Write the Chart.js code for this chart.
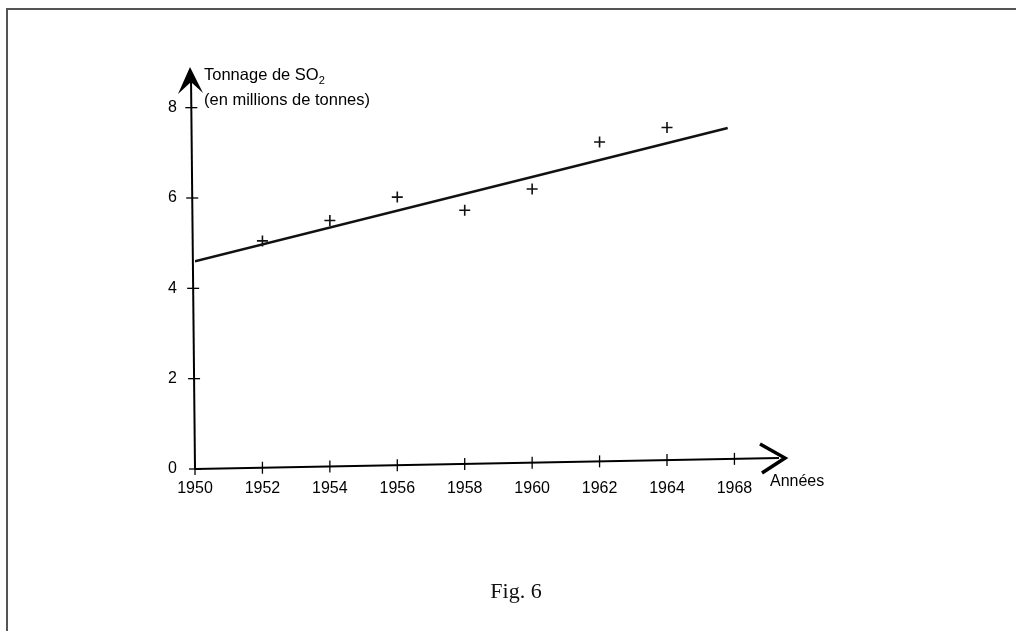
<!DOCTYPE html>
<html lang="fr">
<head>
<meta charset="utf-8">
<title>Fig. 6 - Tonnage de SO2</title>
<script src="https://cdn.jsdelivr.net/npm/chart.js@4.4.1/dist/chart.umd.min.js"></script>
<style>
    html, body { margin: 0; padding: 0; background: #fff; }
    #cadre { position: absolute; left: 0; top: 0; width: 1016px; height: 631px; overflow: hidden; }
    #bordure { position: absolute; left: 6px; top: 8px; width: 1100px; height: 700px; border-top: 2px solid #555; border-left: 2px solid #555; }
    #graphique { position: absolute; left: 0; top: 0; }
    #legende { position: absolute; left: 416px; top: 578px; width: 200px; text-align: center;
               font-family: "Liberation Serif", "DejaVu Serif", serif; font-size: 22px; color: #111; }
</style>
</head>
<body>
<div id="cadre">
    <div id="bordure"></div>
    <canvas id="graphique" width="1016" height="631"></canvas>
    <div id="legende">Fig. 6</div>
</div>

<script>
// Données (millions de tonnes)
const annees = [1952, 1954, 1956, 1958, 1960, 1962, 1964];
const tonnage = [5.05, 5.5, 6.02, 5.73, 6.2, 7.24, 7.56];

// Droite d'ajustement tracée sur la figure
const droiteAnnees = [1950, 1965.8];
const droiteValeurs = [4.6, 7.55];

// Graduations (la dernière est marquée "1968" sur l'original)
const graduationsX = [1950, 1952, 1954, 1956, 1958, 1960, 1962, 1964, 1966];
const etiquettesX = ['1950', '1952', '1954', '1956', '1958', '1960', '1962', '1964', '1968'];
const graduationsY = [0, 2, 4, 6, 8];

const police = '"Liberation Sans", Arial, sans-serif';

// Axes avec flèches, graduations en croix et titres d'axes
const axesFleches = {
    id: 'axesFleches',
    afterDraw(chart) {
        const ctx = chart.ctx;
        const sx = chart.scales.x, sy = chart.scales.y;
        const x0 = sx.getPixelForValue(1950);
        const y0 = sy.getPixelForValue(0);
        const xFin = chart.chartArea.right;
        const yFin = chart.chartArea.top;

        ctx.save();
        ctx.strokeStyle = '#000';
        ctx.fillStyle = '#000';
        ctx.lineWidth = 2;

        // axe vertical
        ctx.beginPath();
        ctx.moveTo(x0, y0);
        ctx.lineTo(x0 - 4, yFin + 10);
        ctx.stroke();
        // axe horizontal
        ctx.beginPath();
        ctx.moveTo(x0, y0);
        ctx.lineTo(xFin - 6, y0 - 11);
        ctx.stroke();

        // flèche verticale
        const tx = x0 - 5, ty = yFin;
        ctx.beginPath();
        ctx.moveTo(tx, ty);
        ctx.lineTo(tx + 13, ty + 26);
        ctx.lineTo(tx + 1, ty + 15);
        ctx.lineTo(tx - 12, ty + 27);
        ctx.closePath();
        ctx.fill();

        // flèche horizontale
        const fx = xFin, fy = y0 - 11;
        ctx.lineWidth = 3.5;
        ctx.beginPath();
        ctx.moveTo(fx - 25, fy - 14);
        ctx.lineTo(fx, fy);
        ctx.lineTo(fx - 23, fy + 15);
        ctx.stroke();

        // graduations en croix
        ctx.lineWidth = 1.3;
        graduationsY.forEach(v => {
            const py = sy.getPixelForValue(v);
            const px = x0 - 4 * (py - y0) / (yFin + 10 - y0);
            ctx.beginPath();
            ctx.moveTo(px - 6, py);
            ctx.lineTo(px + 6, py);
            ctx.stroke();
        });
        graduationsX.forEach(v => {
            const px = sx.getPixelForValue(v);
            const py = y0 - 11 * (px - x0) / (xFin - 6 - x0);
            ctx.beginPath();
            ctx.moveTo(px, py - 6);
            ctx.lineTo(px, py + 6);
            ctx.stroke();
        });

        // titre de l'axe vertical
        ctx.textBaseline = 'middle';
        ctx.textAlign = 'left';
        ctx.font = '16.5px ' + police;
        const debut = 'Tonnage de SO';
        ctx.fillText(debut, x0 + 9, yFin + 8);
        const w = ctx.measureText(debut).width;
        ctx.font = '11px ' + police;
        ctx.fillText('2', x0 + 9 + w, yFin + 14);
        ctx.font = '16.5px ' + police;
        ctx.fillText('(en millions de tonnes)', x0 + 9, yFin + 33);

        // titre de l'axe horizontal
        ctx.font = '16px ' + police;
        ctx.fillText('Années', xFin - 15, y0 + 13);
        ctx.restore();
    }
};

new Chart(document.getElementById('graphique'), {
    type: 'scatter',
    data: {
        datasets: [
            {
                label: 'Tonnage de SO2',
                data: annees.map((a, i) => ({ x: a, y: tonnage[i] })),
                pointStyle: 'cross',
                pointRadius: 5.5,
                pointBorderWidth: 1.6,
                borderColor: '#111',
                backgroundColor: '#111',
                showLine: false
            },
            {
                label: 'Droite',
                data: droiteAnnees.map((a, i) => ({ x: a, y: droiteValeurs[i] })),
                showLine: true,
                borderColor: '#111',
                borderWidth: 2.5,
                pointRadius: 0
            }
        ]
    },
    options: {
        responsive: false,
        animation: false,
        layout: { padding: { left: 0, top: 67, right: 231, bottom: 0 } },
        plugins: { legend: { display: false }, tooltip: { enabled: false } },
        scales: {
            x: {
                type: 'linear',
                min: 1950,
                max: 1967.5,
                grid: { display: false, drawTicks: false },
                border: { display: false },
                afterBuildTicks: s => { s.ticks = graduationsX.map(v => ({ value: v })); },
                afterFit: s => { s.height = 162; },
                ticks: {
                    padding: 10,
                    color: '#000',
                    font: { family: police, size: 16 },
                    maxRotation: 0,
                    autoSkip: false,
                    callback: v => etiquettesX[graduationsX.indexOf(v)]
                }
            },
            y: {
                min: 0,
                max: 8.9,
                grid: { display: false, drawTicks: false },
                border: { display: false },
                afterBuildTicks: s => { s.ticks = graduationsY.map(v => ({ value: v })); },
                afterFit: s => { s.width = 195; },
                ticks: {
                    padding: 18,
                    color: '#000',
                    font: { family: police, size: 16 }
                }
            }
        }
    },
    plugins: [axesFleches]
});
</script>
</body>
</html>
